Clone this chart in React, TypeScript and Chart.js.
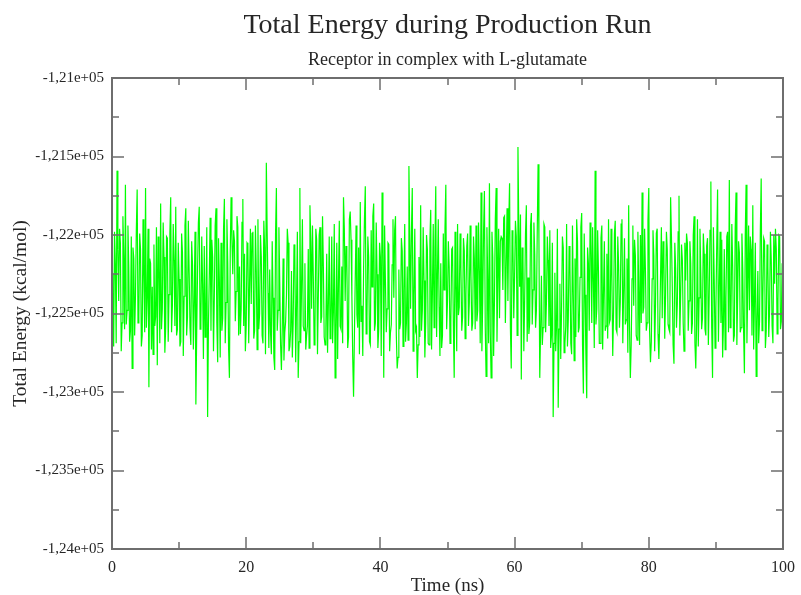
import React, { useEffect, useRef } from "react";
import { Chart, registerables } from "chart.js";

Chart.register(...registerables);

const chartTitle = "Total Energy during Production Run";
const chartSubtitle = "Receptor in complex with L-glutamate";
const xAxisTitle = "Time (ns)";
const yAxisTitle = "Total Energy (kcal/mol)";

// sampling interval of the trajectory (ns)
const timeStepNs = 0.125;

// Total energy (kcal/mol), one row per ns (8 samples each)
const energy: number[] = [
  -122250, -122620, -122710, -121980, -122180, -122690, -121590, -122090,
  -122420, -121960, -122050, -122740, -122560, -121880, -122130, -122600,
  -121680, -122570, -122480, -121940, -122200, -122680, -122610, -122010,
  -122850, -122080, -122150, -122640, -122380, -121970, -121710, -122560,
  -122520, -121990, -122090, -122710, -122640, -121900, -122260, -122620,
  -121700, -122590, -122400, -121960, -122970, -122150, -122180, -122730,
  -122330, -122760, -122060, -122580, -122520, -121950, -122830, -122010,
  -122210, -122690, -121800, -122600, -122470, -121920, -122140, -122750,
  -122590, -122010, -122020, -122680, -122380, -121990, -121760, -122620,
  -122450, -121930, -122160, -122580, -121820, -122640, -122600, -122050,
  -122280, -122710, -122680, -121990, -122110, -122770, -122390, -121940,
  -121830, -122640, -122520, -121910, -122240, -122590, -122700, -122040,
  -122190, -122730, -122420, -121980, -123080, -122620, -122230, -121920,
  -121820, -122600, -122560, -122010, -122310, -122790, -122070, -122650,
  -122480, -121950, -123160, -122570, -122260, -121890, -122610, -122030,
  -122140, -122740, -122390, -121940, -121830, -122560, -122810, -122020,
  -122290, -122780, -122050, -122610, -122530, -121960, -121770, -122690,
  -122430, -121900, -122180, -122720, -122910, -122100, -121760, -122030,
  -122250, -121970, -122040, -122550, -122360, -121880, -121950, -122640,
  -122200, -122630, -122470, -121920, -121770, -122580, -122120, -122740,
  -122580, -122050, -122060, -122690, -122310, -121960, -122440, -121990,
  -121980, -122660, -122610, -121940, -122230, -122730, -121900, -122600,
  -122500, -122000, -122140, -122640, -122690, -121910, -122080, -122760,
  -121540, -121980, -122370, -122720, -122220, -122620, -122760, -122040,
  -122400, -122780, -122860, -121990, -121700, -122610, -122480, -121950,
  -122300, -122700, -122860, -122590, -122150, -122800, -122620, -122550,
  -122380, -121960, -122050, -122740, -122710, -122610, -122230, -122780,
  -122560, -122060, -122120, -122810, -122450, -121980, -122910, -122680,
  -121700, -122690, -122330, -121900, -122580, -122610, -122180, -122730,
  -122640, -122580, -122090, -122720, -121810, -122040, -122470, -121940,
  -122260, -122700, -122590, -121960, -122030, -122760, -122380, -122000,
  -121950, -122560, -122520, -121880, -122200, -122650, -122700, -122590,
  -122120, -122750, -122430, -122010, -122660, -122560, -122010, -122690,
  -122480, -121930, -122910, -122620, -122050, -122790, -122310, -121910,
  -122580, -122600, -122200, -122690, -121760, -121960, -122420, -122070,
  -122160, -122720, -122650, -121900, -121850, -122030, -122390, -122780,
  -123030, -122640, -122280, -121940, -122510, -122590, -122080, -122760,
  -121790, -122550, -122450, -122770, -122200, -121900, -121690, -122630,
  -122520, -122010, -122140, -122680, -122700, -121970, -122330, -121880,
  -121800, -122610, -122560, -121920, -122250, -122720, -122600, -122050,
  -122140, -122770, -121730, -122030, -122910, -121940, -122300, -122620,
  -122470, -122050, -122060, -122740, -122620, -122570, -122190, -121900,
  -122400, -121970, -121880, -122640, -122850, -122780, -122220, -122600,
  -122560, -122020, -122100, -122710, -122360, -121930, -122680, -122560,
  -122200, -122670, -121560, -122020, -122470, -121980, -121700, -122740,
  -122390, -121960, -122610, -122590, -122910, -122700, -122140, -122650,
  -121810, -122610, -122480, -121950, -122290, -122780, -122560, -122000,
  -122090, -122690, -122700, -122040, -121840, -122730, -122370, -121930,
  -122590, -122080, -121690, -122650, -122250, -121900, -122460, -122770,
  -122180, -122720, -122640, -121990, -122350, -121960, -121680, -122600,
  -122420, -122040, -122200, -122690, -122560, -122090, -122080, -122580,
  -122910, -121980, -122310, -122740, -121930, -122510, -122460, -121990,
  -122210, -122610, -122520, -122020, -122100, -122660, -122380, -122070,
  -121990, -122580, -122430, -121940, -122260, -122610, -122560, -122010,
  -122150, -122600, -121940, -122550, -122480, -121920, -122230, -122690,
  -121730, -122740, -122420, -121980, -121720, -122580, -122900, -121950,
  -122300, -122690, -121670, -122620, -122910, -121980, -122140, -122770,
  -122410, -121900, -121700, -122680, -122290, -121960, -122530, -122040,
  -122010, -122020, -122350, -121890, -121880, -122560, -122180, -121830,
  -122420, -121940, -121670, -122590, -122850, -121970, -122060, -122530,
  -122260, -121910, -122010, -122640, -121440, -121960, -122330, -121870,
  -122920, -122080, -122150, -122740, -122410, -121990, -121810, -122680,
  -122270, -122630, -122560, -121940, -121860, -122570, -122350, -121920,
  -122120, -122590, -122480, -121980, -121550, -122020, -122910, -122610,
  -122260, -122700, -122590, -121930, -121950, -122620, -122420, -122010,
  -122160, -122580, -121970, -122720, -122640, -122050, -123160, -122690,
  -122240, -122740, -122580, -121960, -123100, -122600, -122310, -122790,
  -122470, -122010, -122080, -122750, -122690, -122580, -121930, -122710,
  -122540, -122070, -122200, -122690, -122760, -121940, -122380, -122800,
  -122150, -122650, -121900, -122040, -122620, -122590, -122270, -121950,
  -121860, -122700, -123010, -121990, -122380, -122760, -123040, -122080,
  -122180, -122610, -121920, -122030, -122560, -121950, -122300, -122720,
  -121590, -122570, -122470, -121970, -122230, -122690, -122690, -122020,
  -121940, -122730, -122380, -122040, -122610, -122580, -122120, -122660,
  -121900, -122560, -122540, -121960, -122270, -122770, -122490, -121990,
  -121910, -122600, -122620, -122010, -122190, -122590, -122430, -121930,
  -121900, -122690, -122360, -122020, -122570, -122540, -122150, -122750,
  -121810, -122580, -122910, -122700, -122280, -121940, -122450, -122030,
  -122130, -122640, -122670, -121980, -122350, -122700, -122000, -122560,
  -121730, -122500, -122460, -121960, -122230, -122610, -122560, -121910,
  -121700, -122620, -122810, -122680, -122280, -121970, -122130, -122740,
  -122440, -121990, -121960, -122630, -122790, -122560, -122260, -121950,
  -122530, -122040, -122150, -122660, -122380, -121980, -122090, -122570,
  -122600, -122620, -121760, -122010, -122330, -122700, -122820, -122050,
  -122210, -122590, -122440, -121980, -121750, -122640, -122380, -122060,
  -122160, -122560, -122740, -122050, -122290, -121990, -122050, -122610,
  -122420, -122040, -122180, -122630, -122560, -122000, -121880, -122690,
  -122850, -122560, -121900, -122710, -122400, -121960, -122240, -122600,
  -122530, -121990, -122120, -122600, -122640, -122070, -122020, -122700,
  -122390, -121970, -121660, -122590, -122910, -121950, -122280, -122720,
  -122470, -122060, -121710, -122680, -122350, -121980, -122560, -122030,
  -122780, -122570, -122090, -122730, -122400, -122010, -121980, -122620,
  -121650, -122590, -122520, -121930, -122200, -122680, -122640, -121960,
  -121730, -122700, -122380, -122040, -122110, -122620, -122590, -121990,
  -122210, -122610, -122880, -122000, -121680, -122690, -122330, -121940,
  -122480, -122010, -122090, -122640, -121810, -122730, -122420, -122050,
  -122900, -122560, -122230, -122690, -122550, -121970, -121640, -122610,
  -122400, -122020, -122040, -122720, -122610, -122060, -122200, -122650,
  -122480, -121980, -122160, -122580, -122690, -122000, -122310, -121960,
  -122090, -122630, -122420, -122000, -122010, -122600, -122550, -122180,
  -122250,
];

const xTickValues = [0, 20, 40, 60, 80, 100];
const xTickLabels = ["0", "20", "40", "60", "80", "100"];
const yTickValues = [-124000, -123500, -123000, -122500, -122000, -121500, -121000];
const yTickLabels = [
  "-1,24e+05",
  "-1,235e+05",
  "-1,23e+05",
  "-1,225e+05",
  "-1,22e+05",
  "-1,215e+05",
  "-1,21e+05",
];

const FONT = '"Liberation Serif", "Times New Roman", serif';
const TEXT = "#262626";
const FRAME = "#6e6e6e";

const framePlugin = {
  id: "graceFrame",
  afterDatasetsDraw(chart: any) {
    const { ctx, chartArea } = chart;
    const { left, right, top, bottom } = chartArea;
    const xs = chart.scales.x;
    const ys = chart.scales.y;
    ctx.save();
    ctx.strokeStyle = FRAME;
    ctx.lineWidth = 1.5;
    const major = 12;
    const minor = 7;
    ctx.beginPath();
    for (let i = 0; i < xTickValues.length; i++) {
      const px = Math.round(xs.getPixelForValue(xTickValues[i]));
      ctx.moveTo(px, bottom);
      ctx.lineTo(px, bottom - major);
      ctx.moveTo(px, top);
      ctx.lineTo(px, top + major);
      if (i < xTickValues.length - 1) {
        const mx = Math.round(xs.getPixelForValue((xTickValues[i] + xTickValues[i + 1]) / 2));
        ctx.moveTo(mx, bottom);
        ctx.lineTo(mx, bottom - minor);
        ctx.moveTo(mx, top);
        ctx.lineTo(mx, top + minor);
      }
    }
    for (let i = 0; i < yTickValues.length; i++) {
      const py = Math.round(ys.getPixelForValue(yTickValues[i]));
      ctx.moveTo(left, py);
      ctx.lineTo(left + major, py);
      ctx.moveTo(right, py);
      ctx.lineTo(right - major, py);
      if (i < yTickValues.length - 1) {
        const my = Math.round(ys.getPixelForValue((yTickValues[i] + yTickValues[i + 1]) / 2));
        ctx.moveTo(left, my);
        ctx.lineTo(left + minor, my);
        ctx.moveTo(right, my);
        ctx.lineTo(right - minor, my);
      }
    }
    ctx.stroke();
    ctx.lineWidth = 2;
    ctx.strokeRect(left, top, right - left, bottom - top);
    ctx.restore();
  },
  afterDraw(chart: any) {
    const { ctx, chartArea } = chart;
    const cx = (chartArea.left + chartArea.right) / 2;
    const cy = (chartArea.top + chartArea.bottom) / 2;
    ctx.save();
    ctx.fillStyle = TEXT;
    ctx.textAlign = "center";
    ctx.textBaseline = "alphabetic";
    ctx.font = `28px ${FONT}`;
    ctx.fillText(chartTitle, cx, 33);
    ctx.font = `18px ${FONT}`;
    ctx.fillText(chartSubtitle, cx, 65);
    ctx.font = `19px ${FONT}`;
    ctx.fillText(xAxisTitle, cx, 591);
    ctx.translate(26, cy);
    ctx.rotate(-Math.PI / 2);
    ctx.font = `19.5px ${FONT}`;
    ctx.fillText(yAxisTitle, 0, 0);
    ctx.restore();
  },
};

export default function App() {
  const canvasRef = useRef<HTMLCanvasElement | null>(null);

  useEffect(() => {
    const canvas = canvasRef.current;
    if (!canvas) return;
    const points = energy.map((e, i) => ({ x: i * timeStepNs, y: e }));
    const chart = new Chart(canvas, {
      type: "line",
      data: {
        datasets: [
          {
            data: points,
            borderColor: "#00ff00",
            borderWidth: 1.2,
            pointRadius: 0,
            tension: 0,
            fill: false,
          },
        ],
      },
      options: {
        animation: false,
        responsive: false,
        maintainAspectRatio: false,
        parsing: false,
        normalized: true,
        layout: { padding: { left: 0, top: 78, right: 18, bottom: 0 } },
        plugins: {
          legend: { display: false },
          title: { display: false },
          tooltip: { enabled: false },
        },
        scales: {
          x: {
            type: "linear",
            min: 0,
            max: 100,
            afterFit: (s: any) => {
              s.height = 46;
              s.paddingLeft = 0;
              s.paddingRight = 0;
            },
            afterBuildTicks: (s: any) => {
              s.ticks = xTickValues.map((v) => ({ value: v }));
            },
            grid: { display: false, drawTicks: false },
            border: { display: false },
            ticks: {
              padding: 9,
              color: TEXT,
              font: { family: FONT, size: 16 },
              maxRotation: 0,
              callback: (v: any) => {
                const i = xTickValues.indexOf(Number(v));
                return i >= 0 ? xTickLabels[i] : "";
              },
            },
          },
          y: {
            type: "linear",
            min: -124000,
            max: -121000,
            afterFit: (s: any) => {
              s.width = 112;
              s.paddingTop = 0;
              s.paddingBottom = 0;
            },
            afterBuildTicks: (s: any) => {
              s.ticks = yTickValues.map((v) => ({ value: v }));
            },
            grid: { display: false, drawTicks: false },
            border: { display: false },
            ticks: {
              padding: 8,
              color: TEXT,
              font: { family: FONT, size: 15 },
              autoSkip: false,
              callback: (v: any) => {
                const i = yTickValues.indexOf(Number(v));
                return i >= 0 ? yTickLabels[i] : "";
              },
            },
          },
        },
      },
      plugins: [framePlugin],
    });
    return () => chart.destroy();
  }, []);

  return (
    <div
      style={{
        position: "fixed",
        left: 0,
        top: 0,
        width: 801,
        height: 595,
        background: "#ffffff",
      }}
    >
      <canvas ref={canvasRef} width={801} height={595} style={{ width: 801, height: 595 }} />
    </div>
  );
}
